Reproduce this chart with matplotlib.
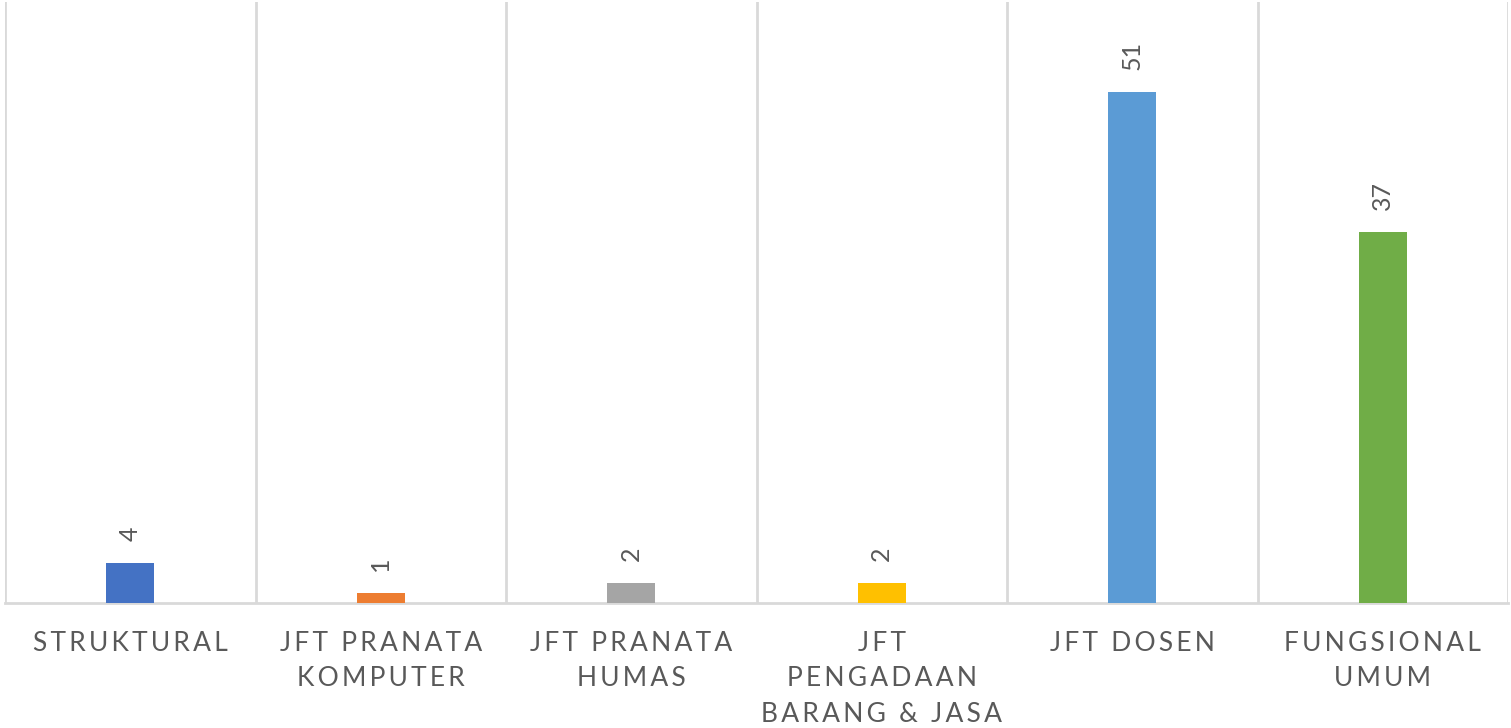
import numpy as np
import matplotlib.pyplot as plt

# Data
categories = ["STRUKTURAL", "JFT PRANATA\nKOMPUTER", "JFT PRANATA\nHUMAS",
              "JFT\nPENGADAAN\nBARANG & JASA", "JFT DOSEN", "FUNGSIONAL\nUMUM"]
values = [4, 1, 2, 2, 51, 37]
colors = ["#4472C4", "#ED7D31", "#A5A5A5", "#FFC000", "#5B9BD5", "#70AD47"]

plt.rcParams['font.family'] = ['Lato', 'DejaVu Sans']
text_color = "#595959"
grid_color = "#D9D9D9"


def spaced(label):
    # imitate the wide letter spacing of the original labels
    lines = []
    for line in label.split("\n"):
        lines.append("\u2009".join(line))
    return "\n".join(lines)


fig = plt.figure(figsize=(15.11, 7.28), dpi=100)
ax = fig.add_axes([5 / 1511, 125 / 728, 1503 / 1511, 601 / 728])

x = np.arange(len(categories))
ax.bar(x, values, width=0.19, color=colors, zorder=3)

for xi, v in zip(x, values):
    ax.annotate(str(v), (xi, v), xytext=(0, 16), textcoords="offset points",
                rotation=90, ha="center", va="bottom", fontsize=18, color=text_color)

ax.set_xlim(-0.5, len(categories) - 0.5)
ax.set_ylim(0, 60)
ax.set_yticks([])

ax.set_xticks(x)
ax.set_xticklabels([spaced(c) for c in categories], fontsize=19, color=text_color,
                   linespacing=1.52)
ax.tick_params(axis="x", length=0, pad=20)

ax.set_xticks(np.arange(-0.5, len(categories)), minor=True)
ax.tick_params(axis="x", which="minor", length=0)
ax.grid(axis="x", which="minor", color=grid_color, linewidth=2, zorder=0)

for side in ["top", "left", "right"]:
    ax.spines[side].set_visible(False)
ax.spines["bottom"].set_color(grid_color)
ax.spines["bottom"].set_linewidth(2)

fig.savefig("out.png", dpi=100)
